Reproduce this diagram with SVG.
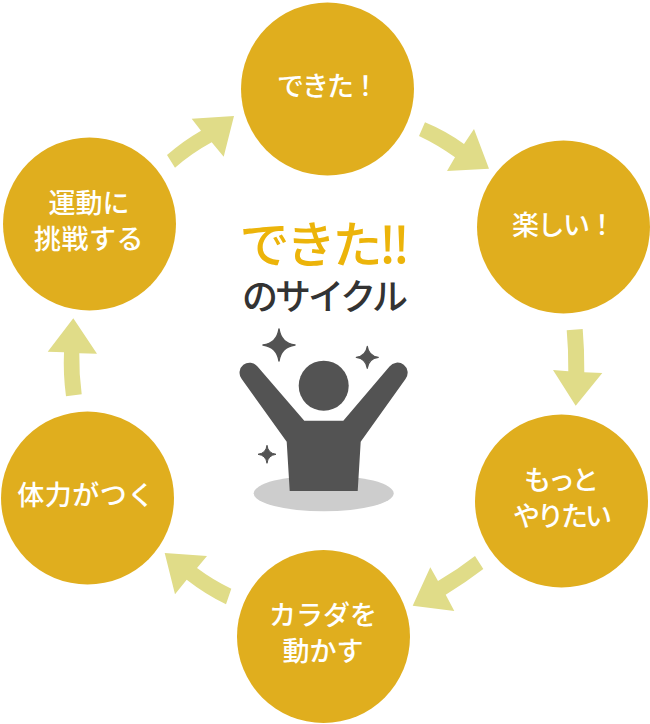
<svg xmlns="http://www.w3.org/2000/svg" width="650" height="724" viewBox="0 0 650 724">
<style>
.step{fill:#e0ae1e}
.flow{fill:#e0dc88}
.figure{fill:#535353}
text{font-family:"Noto Sans CJK JP","Noto Sans",sans-serif;font-weight:500;text-anchor:middle}
.lbl{fill:#fff;font-size:27px}
</style>
<rect width="650" height="724" fill="#fff"/>
<g id="connectors">
<path class="flow" d="M425,122.3Q446,131 464,144L474,129L489,168.7L447,171L455,157.3Q438,145 419,136Z"/>
<path class="flow" d="M566.7,330.3L582.7,329Q584.5,350 584.3,372.3L602.3,373L575.7,405.7L553,370L568.3,371.3Q568.5,350 566.7,330.3Z"/>
<path class="flow" d="M475,556L483.3,569Q465,583 445.7,594.7L454.3,611L412.7,605.7L430.3,567.3L438,581Q457,570 475,556Z"/>
<path class="flow" d="M164.7,553L207,556L197,568Q213,580 231.3,588.7L226,604.3Q205,594 186.7,579.7L175,594.3Z"/>
<path class="flow" d="M73.3,318.3L97,353.7L79.3,353.3Q79,374 81.7,394.3L66,396.3Q63,374 64,352.3L47.7,351.7Z"/>
<path class="flow" d="M234,116L223.7,156.7L211.7,142.3Q192,153 175,167.7L167,155Q183,141 201,130.7L191.7,118.7Z"/>
</g>
<g id="step-dekita"><circle class="step" cx="327.500" cy="89" r="86.500"/><text class="lbl" x="327" y="96" letter-spacing="-2">できた！</text></g>
<g id="step-tanoshii"><circle class="step" cx="563.500" cy="227" r="86.500"/><text class="lbl" x="563" y="235" letter-spacing="-1.500">楽しい！</text></g>
<g id="step-motto"><circle class="step" cx="561.500" cy="501" r="86.500"/><text class="lbl" x="560" y="490" letter-spacing="-3">もっと</text><text class="lbl" x="561" y="526" letter-spacing="-3">やりたい</text></g>
<g id="step-ugokasu"><circle class="step" cx="323.500" cy="636.500" r="86.500"/><text class="lbl" x="323" y="625">カラダを</text><text class="lbl" x="323" y="661">動かす</text></g>
<g id="step-tairyoku"><circle class="step" cx="87.500" cy="498" r="86.500"/><text class="lbl" x="86" y="505" letter-spacing="0.500">体力がつく</text></g>
<g id="step-undo"><circle class="step" cx="89.500" cy="224" r="86.500"/><text class="lbl" x="89" y="213">運動に</text><text class="lbl" x="89" y="249" letter-spacing="0.500">挑戦する</text></g>
<g id="center-title">
<text x="323" y="263" font-size="50" fill="#ecb40a" letter-spacing="-3.500">できた!!</text>
<text x="323.500" y="310" font-size="36" fill="#333" letter-spacing="-3">のサイクル</text>
</g>
<g id="center-figure">
<ellipse cx="323.700" cy="493.300" rx="70" ry="18" fill="#cdcdcd"/>
<circle class="figure" cx="323.700" cy="385.700" r="25"/>
<path class="figure" d="M304.300,420.700L257.500,366.500A10,10 0 0 0 241.700,379L286.700,441.700L289.700,491H357.700L360.700,441.700L405.500,379A10,10 0 0 0 389.500,366.500L343.300,420.700Z"/>
<path class="figure" d="M279,329Q281,343 295,345Q281,347 279,361Q277,347 263,345Q277,343 279,329Z" stroke="#535353" stroke-width="1.500" stroke-linejoin="round"/>
<path class="figure" d="M367.300,346.300Q368.500,356 378.300,357.300Q368.500,358.500 367.300,368.300Q366,358.500 356.300,357.300Q366,356 367.300,346.300Z" stroke="#535353" stroke-width="1.200" stroke-linejoin="round"/>
<path class="figure" d="M267,445.300Q268,453.300 276,454.300Q268,455.300 267,463.300Q266,455.300 258,454.300Q266,453.300 267,445.300Z" stroke="#535353" stroke-width="1" stroke-linejoin="round"/>
</g>
</svg>
